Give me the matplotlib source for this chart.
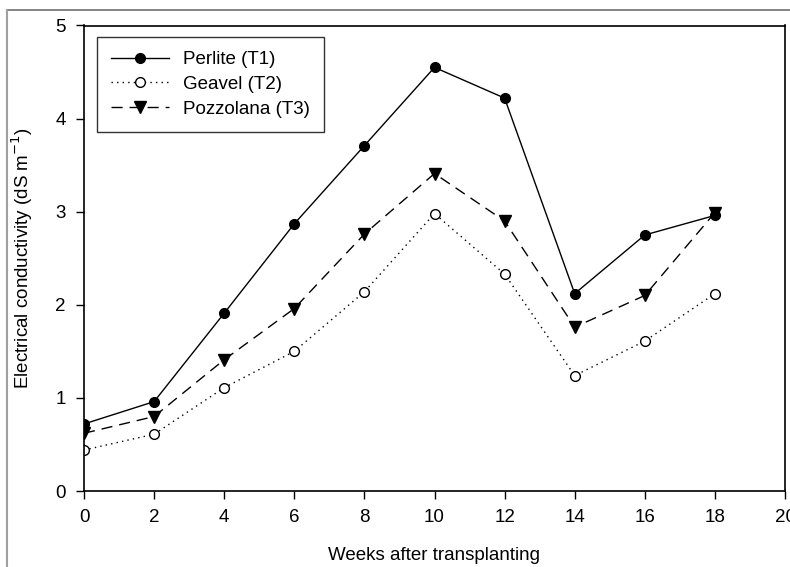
import matplotlib
matplotlib.use("Agg")
import matplotlib.pyplot as plt
from matplotlib.lines import Line2D

plt.rcParams["font.family"] = ["Liberation Sans", "DejaVu Sans"]

weeks = [0, 2, 4, 6, 8, 10, 12, 14, 16, 18]
perlite = [0.72, 0.96, 1.91, 2.87, 3.71, 4.55, 4.22, 2.12, 2.75, 2.96]
geavel = [0.44, 0.61, 1.11, 1.50, 2.14, 2.98, 2.33, 1.24, 1.61, 2.12]
pozzolana = [0.62, 0.80, 1.41, 1.96, 2.76, 3.41, 2.90, 1.76, 2.10, 2.99]
labels = ["Perlite (T1)", "Geavel (T2)", "Pozzolana (T3)"]
x_ticks = [0, 2, 4, 6, 8, 10, 12, 14, 16, 18, 20]
y_ticks = [0, 1, 2, 3, 4, 5]

fig = plt.figure(figsize=(7.9, 5.67), dpi=100)
ax = fig.add_axes([84 / 790, 1 - 491 / 567, 701 / 790, 465.5 / 567])

# outer gray frame lines (top and left)
fig.add_artist(Line2D([7 / 790, 1], [1 - 10 / 567, 1 - 10 / 567], color="#707070", lw=1.2))
fig.add_artist(Line2D([7 / 790, 7 / 790], [0, 1 - 10 / 567], color="#a0a0a0", lw=1.5))

ax.plot(weeks, perlite, color="black", lw=1.0, ls="-", marker="o", ms=7,
        mfc="black", mec="black", label=labels[0])
ax.plot(weeks, geavel, color="black", lw=1.0, ls=(0, (1, 3)), marker="o", ms=7,
        mfc="white", mec="black", label=labels[1])
ax.plot(weeks, pozzolana, color="black", lw=1.0, ls=(0, (8, 5)), marker="v", ms=8,
        mfc="black", mec="black", label=labels[2])

ax.set_xlim(0, 20)
ax.set_ylim(0, 5)
ax.set_xticks(x_ticks)
ax.set_yticks(y_ticks)
ax.tick_params(direction="out", length=6, width=1.0, labelsize=13.5, pad=7)
for s in ax.spines.values():
    s.set_linewidth(1.2)

ax.set_xlabel("Weeks after transplanting", fontsize=13.5, labelpad=15)
ax.set_ylabel("Electrical conductivity (dS m$^{-1}$)", fontsize=13.5, labelpad=15)

leg = ax.legend(loc="upper left", bbox_to_anchor=(0.0185, 0.975), borderaxespad=0,
                fontsize=13.5, frameon=True, fancybox=False, edgecolor="black",
                handlelength=3.1, borderpad=0.75, labelspacing=0.4, handletextpad=0.75)
leg.get_frame().set_linewidth(1.0)

fig.savefig("out.png", dpi=100)
